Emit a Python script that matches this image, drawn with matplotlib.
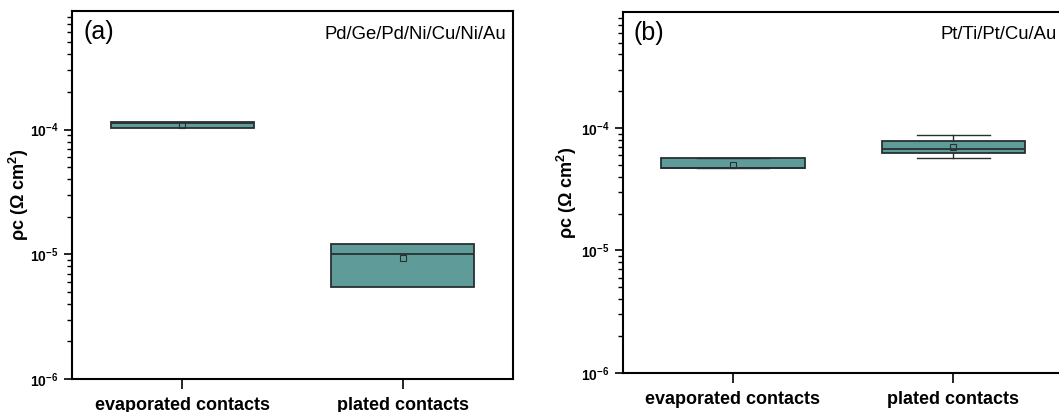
import matplotlib
matplotlib.use("Agg")
import matplotlib.pyplot as plt
from matplotlib.ticker import LogLocator, NullFormatter

plt.rcParams['font.family'] = ['Liberation Sans', 'DejaVu Sans']
plt.rcParams['mathtext.fontset'] = 'custom'
plt.rcParams['mathtext.rm'] = 'Liberation Sans'
plt.rcParams['mathtext.bf'] = 'Liberation Sans:bold'

# Data (contact resistivity, Ohm cm^2)
categories = ["evaporated contacts", "plated contacts"]

# panel (a) Pd/Ge/Pd/Ni/Cu/Ni/Au
a_q1 = [1.02e-4, 5.5e-6]
a_med = [1.12e-4, 1.01e-5]
a_q3 = [1.16e-4, 1.22e-5]
a_lo = [1.02e-4, 5.5e-6]
a_hi = [1.16e-4, 1.22e-5]
a_mean = [1.09e-4, 9.3e-6]

# panel (b) Pt/Ti/Pt/Cu/Au
b_q1 = [4.68e-5, 6.32e-5]
b_med = [4.76e-5, 6.78e-5]
b_q3 = [5.71e-5, 7.87e-5]
b_lo = [4.68e-5, 5.75e-5]
b_hi = [5.71e-5, 8.77e-5]
b_mean = [5.04e-5, 7.03e-5]

fill = "#5f9b98"
edge = "#283030"


def make_stats(q1, med, q3, lo, hi, mean):
    stats = []
    for i in range(len(q1)):
        stats.append({"q1": q1[i], "med": med[i], "q3": q3[i],
                      "whislo": lo[i], "whishi": hi[i], "mean": mean[i],
                      "fliers": []})
    return stats


def draw_panel(ax, stats, tag, metal, caps, label_x):
    ax.bxp(stats, positions=[0, 1], widths=0.65, patch_artist=True,
           showmeans=True, showfliers=False, showcaps=caps,
           boxprops=dict(facecolor=fill, edgecolor=edge, linewidth=1.3),
           medianprops=dict(color=edge, linewidth=1.3),
           whiskerprops=dict(color=edge, linewidth=1.0),
           capprops=dict(color=edge, linewidth=1.0),
           capwidths=0.33,
           meanprops=dict(marker="s", markersize=4, markerfacecolor="none",
                          markeredgecolor=edge, markeredgewidth=0.8))
    ax.set_yscale("log")
    ax.set_ylim(1e-6, 8.9e-4)
    ax.set_xlim(-0.5, 1.5)
    ax.set_xticks([0, 1])
    ax.set_xticklabels(categories, fontsize=13, fontweight="bold")
    ax.set_yticks([1e-6, 1e-5, 1e-4])
    ax.set_yticklabels([r"$\mathbf{10^{-6}}$", r"$\mathbf{10^{-5}}$", r"$\mathbf{10^{-4}}$"],
                       fontsize=10)
    ax.yaxis.set_minor_locator(LogLocator(base=10, subs=range(2, 10)))
    ax.yaxis.set_minor_formatter(NullFormatter())
    ax.tick_params(axis="y", which="major", direction="out", length=6, width=1.2)
    ax.tick_params(axis="y", which="minor", direction="out", length=3.5, width=1.0)
    ax.tick_params(axis="x", direction="out", length=7, width=1.2, pad=6)
    for s in ax.spines.values():
        s.set_linewidth(1.5)
    ax.set_ylabel(r"ρc (Ω cm$^{\mathbf{2}}$)", fontsize=13, fontweight="bold")
    ax.yaxis.set_label_coords(label_x, 0.5)
    ax.text(0.025, 0.975, tag, transform=ax.transAxes, fontsize=18, va="top", ha="left")
    ax.text(0.985, 0.96, metal, transform=ax.transAxes, fontsize=13.3, va="top", ha="right")


fig = plt.figure(figsize=(10.59, 4.12), dpi=100)
ax1 = fig.add_axes([0.068, 0.080, 0.4164, 0.893])
ax2 = fig.add_axes([0.588, 0.095, 0.4164, 0.876])

draw_panel(ax1, make_stats(a_q1, a_med, a_q3, a_lo, a_hi, a_mean), "(a)",
           "Pd/Ge/Pd/Ni/Cu/Ni/Au", False, -0.092)
draw_panel(ax2, make_stats(b_q1, b_med, b_q3, b_lo, b_hi, b_mean), "(b)",
           "Pt/Ti/Pt/Cu/Au", True, -0.100)

fig.savefig("out.png", dpi=100)
